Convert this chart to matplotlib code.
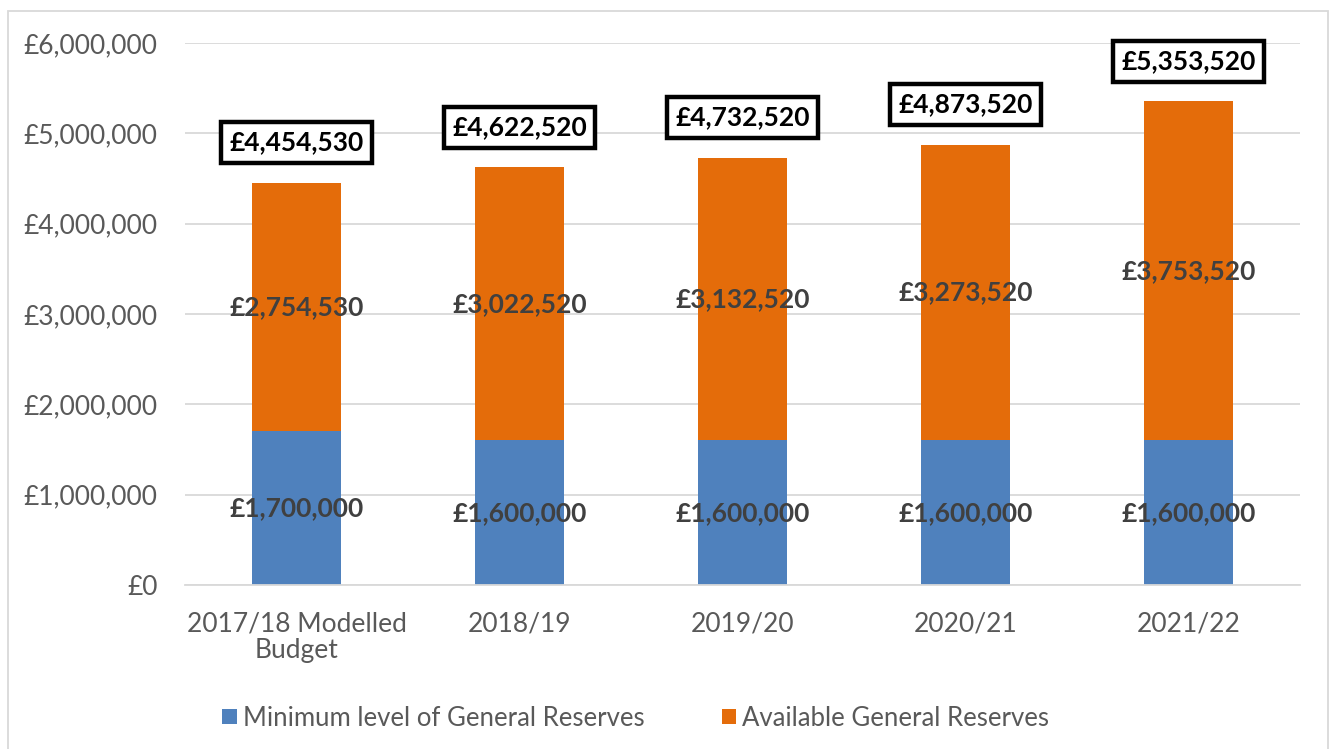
import numpy as np
import matplotlib.pyplot as plt
from matplotlib.patches import Rectangle
from matplotlib.ticker import FuncFormatter

plt.rcParams['font.family'] = ['Lato', 'DejaVu Sans']

# Data
categories = ['2017/18 Modelled\nBudget', '2018/19', '2019/20', '2020/21', '2021/22']
minimum_reserves = [1700000, 1600000, 1600000, 1600000, 1600000]
available_reserves = [2754530, 3022520, 3132520, 3273520, 3753520]
totals = [4454530, 4622520, 4732520, 4873520, 5353520]

blue = '#4f81bd'
orange = '#e46c0a'
grey_text = '#595959'

fig = plt.figure(figsize=(13.33, 7.49), dpi=100)
ax = fig.add_axes([0.139, 0.219, 0.836, 0.7235])

x = np.arange(len(categories))
width = 0.4
ax.bar(x, minimum_reserves, width, color=blue, label='Minimum level of General Reserves', zorder=2)
ax.bar(x, available_reserves, width, bottom=minimum_reserves, color=orange,
       label='Available General Reserves', zorder=2)

money = lambda v: '£{:,.0f}'.format(v)

# segment labels
for i in range(len(x)):
    ax.text(x[i], minimum_reserves[i] / 2, money(minimum_reserves[i]), ha='center', va='center',
            fontsize=19, fontweight='bold', color='#404040', zorder=3)
    ax.text(x[i], minimum_reserves[i] + available_reserves[i] / 2, money(available_reserves[i]),
            ha='center', va='center', fontsize=19, fontweight='bold', color='#404040', zorder=3)
    ax.annotate(money(totals[i]), (x[i], totals[i]), xytext=(0, 29), textcoords='offset points',
                ha='center', va='center', fontsize=19, fontweight='bold', color='black', zorder=4,
                bbox=dict(boxstyle='square,pad=0.32', fc='white', ec='black', lw=3.2))

ax.set_xlim(-0.5, len(x) - 0.5)
ax.set_ylim(0, 6000000)
ax.set_yticks(np.arange(0, 6000001, 1000000))
ax.yaxis.set_major_formatter(FuncFormatter(lambda v, p: money(v)))
ax.set_xticks(x)
ax.set_xticklabels(categories, fontsize=19, color=grey_text, linespacing=1.1)
ax.tick_params(axis='y', labelsize=19, labelcolor=grey_text, length=0, pad=20)
ax.tick_params(axis='x', length=0, pad=19)
ax.grid(axis='y', color='#d9d9d9', lw=1.3, zorder=0)
for s in ['top', 'right', 'left']:
    ax.spines[s].set_visible(False)
ax.spines['bottom'].set_color('#d9d9d9')
ax.spines['bottom'].set_linewidth(1.3)

leg = fig.legend(loc='center', bbox_to_anchor=(0.477, 0.041), ncol=2, frameon=False,
                 fontsize=18.5, handlelength=0.55, handleheight=0.55, handletextpad=0.25,
                 columnspacing=3.0)
for t in leg.get_texts():
    t.set_color(grey_text)

# outer chart border
fig.patches.append(Rectangle((0.006, -0.01), 0.99, 0.995, transform=fig.transFigure,
                             fill=False, ec='#d9d9d9', lw=1.3))

fig.savefig('out.png', dpi=100)
